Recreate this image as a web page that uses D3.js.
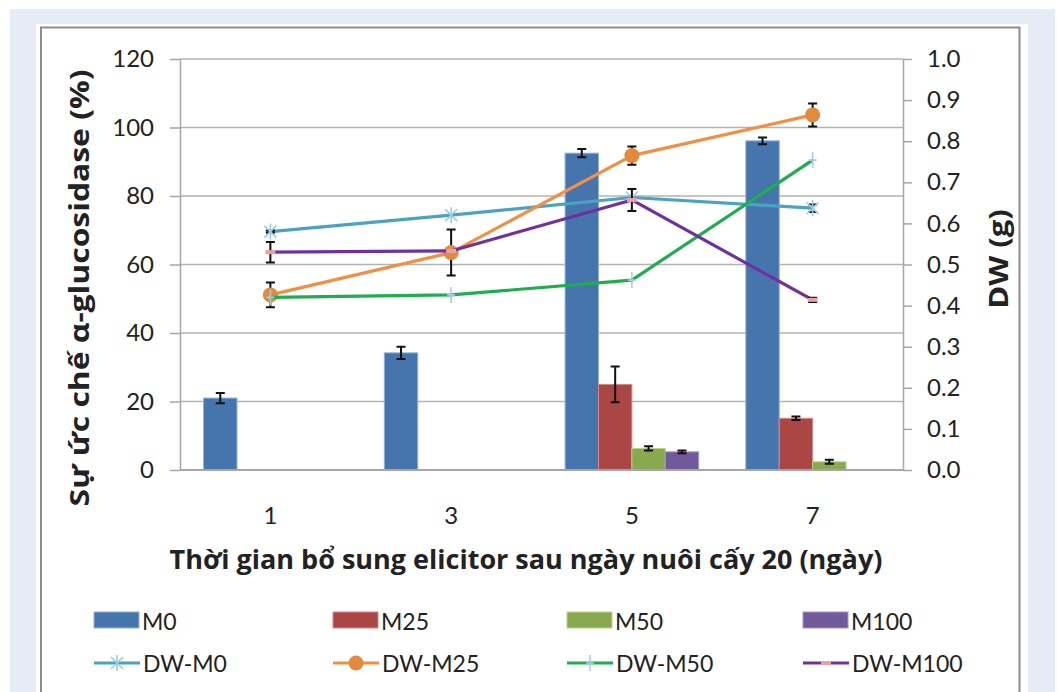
<!DOCTYPE html>
<html>
<head>
<meta charset="utf-8">
<script src="https://cdn.jsdelivr.net/npm/d3@7"></script>
<style>
  html, body { margin: 0; padding: 0; background: #ffffff; }
  svg { display: block; }
  text { font-family: Lato, "Open Sans", sans-serif; fill: #222; }
  .title { font-family: "Open Sans", Lato, sans-serif; font-weight: bold; }
</style>
</head>
<body>
<svg id="chart" width="1058" height="692"></svg>
<script>
// Harvest days after 20 days of culture
const categories = ["1", "3", "5", "7"];

// α-glucosidase inhibition (%) per elicitor concentration, with error
const seriesNames = ["M0", "M25", "M50", "M100"];
const m0 = [21.0, 34.2, 92.5, 96.1];
const m0Err = [1.5, 1.8, 1.2, 1.0];
const m25 = [0, 0, 25.0, 15.1];
const m25Err = [0, 0, 5.2, 0.5];
const m50 = [0, 0, 6.3, 2.4];
const m50Err = [0, 0, 0.6, 0.6];
const m100 = [0, 0, 5.3, 0];
const m100Err = [0, 0, 0.4, 0];

// Dry weight (g)
const lineNames = ["DW-M0", "DW-M25", "DW-M50", "DW-M100"];
const dwM0 = [0.580, 0.620, 0.663, 0.637];
const dwM0Err = [0.003, 0, 0, 0.009];
const dwM25 = [0.426, 0.529, 0.765, 0.864];
const dwM25Err = [0.030, 0.056, 0.022, 0.028];
const dwM50 = [0.420, 0.426, 0.462, 0.754];
const dwM50Err = [0, 0, 0, 0];
const dwM100 = [0.530, 0.533, 0.657, 0.414];
const dwM100Err = [0.025, 0, 0.027, 0.005];

const leftTicks = [0, 20, 40, 60, 80, 100, 120];
const rightTicks = [0, 0.1, 0.2, 0.3, 0.4, 0.5, 0.6, 0.7, 0.8, 0.9, 1.0];

const barSeries = [
  { name: seriesNames[0], values: m0, err: m0Err, fill: "#4674ad", stroke: "#8fb0d8" },
  { name: seriesNames[1], values: m25, err: m25Err, fill: "#aa4744", stroke: "#d08a88" },
  { name: seriesNames[2], values: m50, err: m50Err, fill: "#8aa84f", stroke: "#b9d38c" },
  { name: seriesNames[3], values: m100, err: m100Err, fill: "#72599a", stroke: "#a595c2" }
];
const lineSeries = [
  { name: lineNames[0], values: dwM0, err: dwM0Err, color: "#4aa3c3", marker: "asterisk" },
  { name: lineNames[1], values: dwM25, err: dwM25Err, color: "#f28f43", marker: "circle" },
  { name: lineNames[2], values: dwM50, err: dwM50Err, color: "#1fae4f", marker: "plus" },
  { name: lineNames[3], values: dwM100, err: dwM100Err, color: "#7030a0", marker: "dash" }
];

const svg = d3.select("#chart");

// Page frame
svg.append("rect").attr("x", 10).attr("y", 9).attr("width", 1045).attr("height", 683).attr("fill", "#e7ebf6");
svg.append("rect").attr("x", 36).attr("y", 24).attr("width", 992).attr("height", 668).attr("fill", "#ffffff");
svg.append("path").attr("d", "M41,700V27.5H1019.5V700")
  .attr("fill", "none").attr("stroke", "#8c8c8c").attr("stroke-width", 2);

const plot = { left: 180, right: 903, top: 59, bottom: 470 };

const x = d3.scaleBand().domain(categories).range([plot.left, plot.right]).padding(0);
const xSub = d3.scaleBand().domain(seriesNames).range([0, x.bandwidth()]).paddingInner(0).paddingOuter(0.706);
const yL = d3.scaleLinear().domain([0, 120]).range([plot.bottom, plot.top]);
const yR = d3.scaleLinear().domain([0, 1]).range([plot.bottom, plot.top]);

// Gridlines
svg.append("g").selectAll("line").data(leftTicks.filter(d => d > 0)).join("line")
  .attr("x1", plot.left).attr("x2", plot.right)
  .attr("y1", d => yL(d)).attr("y2", d => yL(d))
  .attr("stroke", "#b3b3b3").attr("stroke-width", 1.5);

// Left axis
const axL = svg.append("g").attr("transform", `translate(${plot.left},0)`)
  .call(d3.axisLeft(yL).tickValues(leftTicks).tickSize(10).tickPadding(16).tickSizeOuter(0));
axL.selectAll("path, line").attr("stroke", "#a6a6a6").attr("stroke-width", 1.5);
axL.selectAll("text").style("font-size", "24px").attr("fill", "#333");

// Right axis
const axR = svg.append("g").attr("transform", `translate(${plot.right},0)`)
  .call(d3.axisRight(yR).tickValues(rightTicks).tickFormat(d3.format(".1f")).tickSize(9).tickPadding(15).tickSizeOuter(0));
axR.selectAll("path, line").attr("stroke", "#a6a6a6").attr("stroke-width", 1.5);
axR.selectAll("text").style("font-size", "24px").attr("fill", "#333");

// Bars
const groups = svg.append("g").selectAll("g").data(barSeries).join("g");
groups.selectAll("rect").data(s => s.values.map((v, i) => ({ s, v, c: categories[i] })).filter(d => d.v > 0)).join("rect")
  .attr("x", d => x(d.c) + xSub(d.s.name))
  .attr("width", xSub.bandwidth())
  .attr("y", d => yL(d.v))
  .attr("height", d => yL(0) - yL(d.v))
  .attr("fill", d => d.s.fill)
  .attr("stroke", d => d.s.stroke).attr("stroke-width", 1);

// x axis line
svg.append("line").attr("x1", plot.left).attr("x2", plot.right).attr("y1", plot.bottom).attr("y2", plot.bottom)
  .attr("stroke", "#a6a6a6").attr("stroke-width", 2);

// Error bars
function errorBar(g, cx, yTop, yBot) {
  const cap = 4.5;
  g.append("path")
    .attr("d", `M${cx},${yTop}V${yBot}M${cx - cap},${yTop}H${cx + cap}M${cx - cap},${yBot}H${cx + cap}`)
    .attr("stroke", "#111").attr("stroke-width", 2).attr("fill", "none");
}
const errG = svg.append("g");
barSeries.forEach(s => {
  s.values.forEach((v, i) => {
    if (s.err[i] > 0) {
      const cx = x(categories[i]) + xSub(s.name) + xSub.bandwidth() / 2;
      errorBar(errG, cx, yL(v + s.err[i]), yL(v - s.err[i]));
    }
  });
});

// Markers
function drawMarker(g, type, cx, cy) {
  if (type === "asterisk") {
    const r = 8;
    const d = r * 0.75;
    g.append("path")
      .attr("d", `M${cx},${cy - r}V${cy + r}M${cx - d},${cy - d}L${cx + d},${cy + d}M${cx - d},${cy + d}L${cx + d},${cy - d}`)
      .attr("stroke", "#9dcbe3").attr("stroke-width", 1.6).attr("fill", "none");
  } else if (type === "circle") {
    g.append("circle").attr("cx", cx).attr("cy", cy).attr("r", 7.5).attr("fill", "#e48a3c");
  } else if (type === "plus") {
    g.append("path")
      .attr("d", `M${cx},${cy - 8}V${cy + 8}M${cx - 4},${cy}H${cx + 4}`)
      .attr("stroke", "#a9cde6").attr("stroke-width", 1.6).attr("fill", "none");
  } else if (type === "dash") {
    g.append("rect").attr("x", cx - 5).attr("y", cy - 2).attr("width", 10).attr("height", 4).attr("fill", "#e6a3a3");
  }
}

const cxCat = c => x(c) + x.bandwidth() / 2;
const line = d3.line().x((d, i) => cxCat(categories[i])).y(d => yR(d));
const linesG = svg.append("g");
lineSeries.forEach(s => {
  const g = linesG.append("g");
  g.append("path").datum(s.values).attr("d", line)
    .attr("fill", "none").attr("stroke", s.color).attr("stroke-width", 3.2).attr("stroke-linejoin", "round");
  s.values.forEach((v, i) => {
    if (s.err[i] > 0) errorBar(g, cxCat(categories[i]), yR(v + s.err[i]), yR(v - s.err[i]));
  });
  s.values.forEach((v, i) => drawMarker(g, s.marker, cxCat(categories[i]), yR(v)));
});

// Category labels
svg.append("g").selectAll("text").data(categories).join("text")
  .attr("x", d => cxCat(d)).attr("y", 524)
  .attr("text-anchor", "middle").style("font-size", "24px").attr("fill", "#333")
  .text(d => d);

// Axis titles (vertical titles are drawn slightly stretched along their length)
svg.append("text").attr("class", "title").attr("x", 526).attr("y", 569).attr("text-anchor", "middle")
  .style("font-size", "27px").attr("fill", "#111")
  .text("Thời gian bổ sung elicitor sau ngày nuôi cấy 20 (ngày)");
svg.append("text").attr("class", "title").attr("transform", "translate(89,288) rotate(-90) scale(1.18,1)").attr("text-anchor", "middle")
  .style("font-size", "27px").attr("fill", "#111")
  .text("Sự ức chế α-glucosidase (%)");
svg.append("text").attr("class", "title").attr("transform", "translate(1008,259) rotate(-90) scale(1.15,1)").attr("text-anchor", "middle")
  .style("font-size", "27px").attr("fill", "#111")
  .text("DW (g)");

// Legend
const legendX = [94, 333, 567, 803];
const leg1 = svg.append("g").selectAll("g").data(barSeries).join("g")
  .attr("transform", (d, i) => `translate(${legendX[i]},612)`);
leg1.append("rect").attr("width", 45).attr("height", 16)
  .attr("fill", d => d.fill).attr("stroke", d => d.stroke).attr("stroke-width", 1);
leg1.append("text").attr("x", 48).attr("y", 18).style("font-size", "23px").attr("fill", "#222").text(d => d.name);

const leg2 = svg.append("g").selectAll("g").data(lineSeries).join("g")
  .attr("transform", (d, i) => `translate(${legendX[i]},663)`);
leg2.append("line").attr("x1", 0).attr("x2", 46).attr("y1", 0).attr("y2", 0)
  .attr("stroke", d => d.color).attr("stroke-width", 3.2);
leg2.each(function (d) { drawMarker(d3.select(this), d.marker, 23, 0); });
leg2.append("text").attr("x", 49).attr("y", 9).style("font-size", "23px").attr("fill", "#222").text(d => d.name);
</script>
</body>
</html>
